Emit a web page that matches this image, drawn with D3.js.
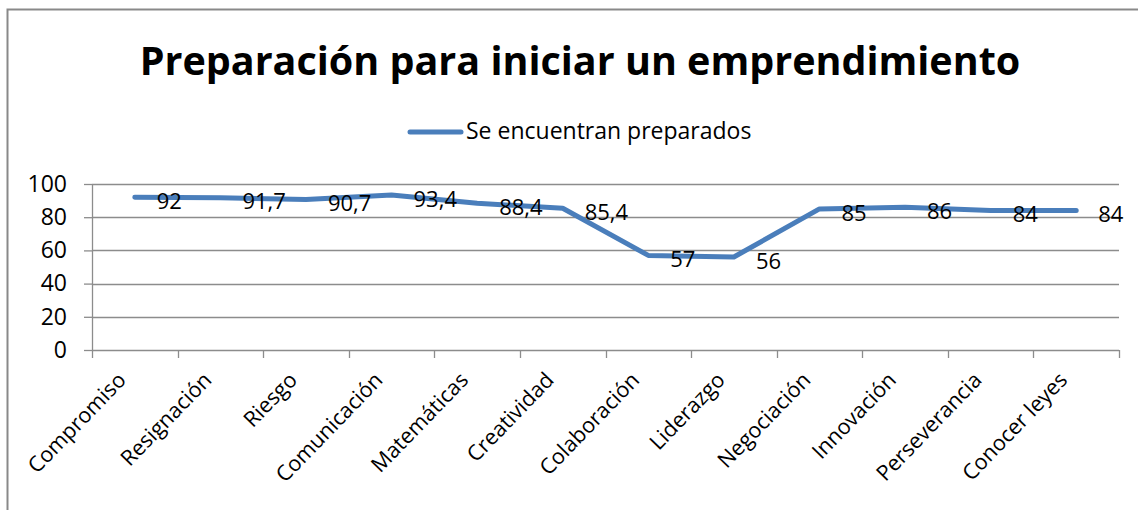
<!DOCTYPE html>
<html>
<head>
<meta charset="utf-8">
<script src="https://cdn.jsdelivr.net/npm/d3@7"></script>
<style>
  body { margin: 0; background: #fff; }
  text { font-family: "Open Sans", sans-serif; fill: #000; }
</style>
</head>
<body>
<div id="chart"></div>
<script>
var categories = ["Compromiso", "Resignación", "Riesgo", "Comunicación", "Matemáticas",
                  "Creatividad", "Colaboración", "Liderazgo", "Negociación", "Innovación",
                  "Perseverancia", "Conocer leyes"];
var values = [92, 91.7, 90.7, 93.4, 88.4, 85.4, 57, 56, 85, 86, 84, 84];
var labels = ["92", "91,7", "90,7", "93,4", "88,4", "85,4", "57", "56", "85", "86", "84", "84"];
var yTicks = [0, 20, 40, 60, 80, 100];
var seriesName = "Se encuentran preparados";
var title = "Preparación para iniciar un emprendimiento";

var W = 1138, H = 510;
var margin = {top: 184, right: 19, bottom: 160, left: 92};
var width = W - margin.left - margin.right,
    height = H - margin.top - margin.bottom;

var svg = d3.select("#chart").append("svg")
    .attr("width", W)
    .attr("height", H);

// chart border
svg.append("rect")
    .attr("x", 7.5).attr("y", 9.5)
    .attr("width", W).attr("height", H)
    .attr("fill", "none")
    .attr("stroke", "#898989")
    .attr("stroke-width", 2);

svg.append("text")
    .attr("x", 580).attr("y", 75)
    .attr("text-anchor", "middle")
    .style("font-size", "39.5px")
    .style("font-weight", "bold")
    .text(title);

// legend
svg.append("line")
    .attr("x1", 410).attr("x2", 461)
    .attr("y1", 132).attr("y2", 132)
    .attr("stroke", "#4a7ebb")
    .attr("stroke-width", 5)
    .attr("stroke-linecap", "round");
svg.append("text")
    .attr("x", 466).attr("y", 139)
    .style("font-size", "23px")
    .text(seriesName);

var g = svg.append("g")
    .attr("transform", "translate(" + margin.left + "," + margin.top + ")");

var x = d3.scaleBand().domain(categories).range([0, width]);
var y = d3.scaleLinear().domain([0, 100]).range([height, 0]);

// gridlines
g.selectAll("line.grid")
    .data(yTicks.slice(1))
    .enter().append("line")
    .attr("class", "grid")
    .attr("x1", 0).attr("x2", width)
    .attr("y1", function(d) { return Math.round(y(d)) + 0.5; })
    .attr("y2", function(d) { return Math.round(y(d)) + 0.5; })
    .attr("stroke", "#8c8c8c")
    .attr("stroke-width", 1.3);

// y axis
var yAxis = g.append("g")
    .call(d3.axisLeft(y).tickValues(yTicks).tickSize(8).tickPadding(17));
yAxis.selectAll("line, path").attr("stroke", "#8c8c8c").attr("stroke-width", 1.3);
yAxis.select(".domain").attr("d", "M0.5," + height + "V0");
yAxis.selectAll("text")
    .style("font-size", "23px")
    .style("font-family", "'Open Sans', sans-serif")
    .attr("fill", "#000");

// x axis with ticks on category boundaries
var xg = g.append("g").attr("transform", "translate(0," + height + ")");
xg.append("line")
    .attr("x1", 0).attr("x2", width)
    .attr("y1", 0.5).attr("y2", 0.5)
    .attr("stroke", "#8c8c8c").attr("stroke-width", 1.3);
var bounds = categories.map(function(c) { return x(c); }).concat([width]);
xg.selectAll("line.tick")
    .data(bounds)
    .enter().append("line")
    .attr("class", "tick")
    .attr("x1", function(d) { return Math.round(d) + 0.5; })
    .attr("x2", function(d) { return Math.round(d) + 0.5; })
    .attr("y1", 0).attr("y2", 8)
    .attr("stroke", "#8c8c8c").attr("stroke-width", 1.3);
xg.selectAll("text.cat")
    .data(categories)
    .enter().append("text")
    .attr("class", "cat")
    .attr("text-anchor", "end")
    .attr("transform", function(d) {
      return "translate(" + (x(d) + x.bandwidth() / 2 - 13) + ",26) rotate(-46)";
    })
    .attr("dy", "0.35em")
    .style("font-size", "21.5px")
    .text(function(d) { return d; });

// series line
var line = d3.line()
    .x(function(d, i) { return x(categories[i]) + x.bandwidth() / 2; })
    .y(function(d) { return y(d); });

g.append("path")
    .datum(values)
    .attr("fill", "none")
    .attr("stroke", "#4a7ebb")
    .attr("stroke-width", 5)
    .attr("stroke-linejoin", "round")
    .attr("stroke-linecap", "round")
    .attr("d", line);

// data labels, to the right of each point
g.selectAll("text.lbl")
    .data(values)
    .enter().append("text")
    .attr("class", "lbl")
    .attr("x", function(d, i) { return x(categories[i]) + x.bandwidth() / 2 + 22; })
    .attr("y", function(d) { return y(d) + 4; })
    .attr("dy", "0.35em")
    .style("font-size", "22px")
    .text(function(d, i) { return labels[i]; });
</script>
</body>
</html>
